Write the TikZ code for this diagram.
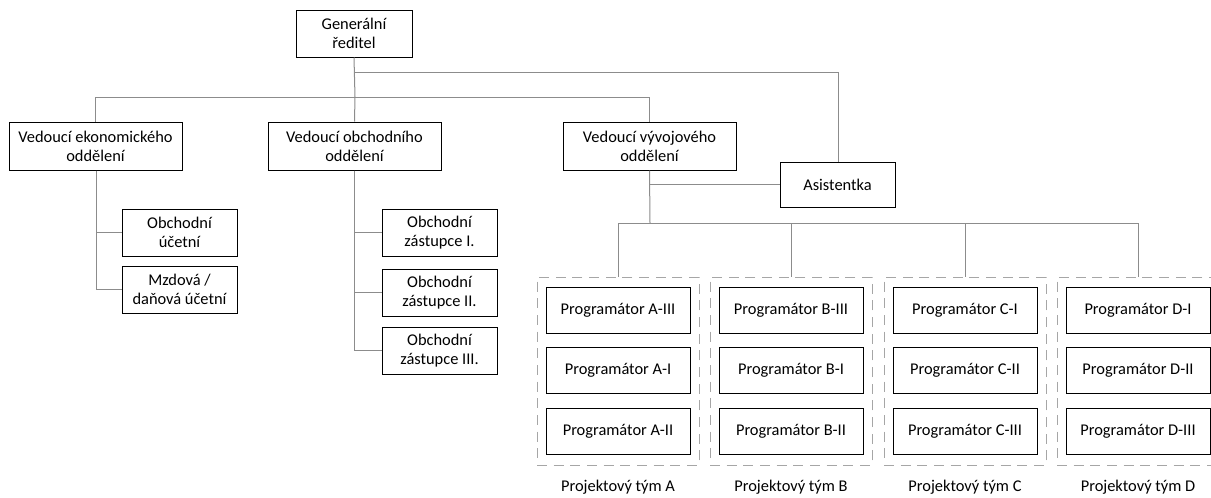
\documentclass[tikz,border=0pt]{standalone}
\usepackage{fontspec}
\setmainfont{Carlito}
\begin{document}
\begin{tikzpicture}[x=0.75pt,y=-0.75pt,
  txt/.style={font=\fontsize{12.3}{14.2}\selectfont},
  box/.style={txt,draw=black,line width=0.75pt,fill=white,align=center,inner sep=0pt},
  wide/.style={box,minimum width=173*0.75pt,minimum height=48*0.75pt},
  small/.style={box,minimum width=115*0.75pt,minimum height=47*0.75pt},
  prog/.style={box,minimum width=144*0.75pt,minimum height=46*0.75pt},
  team/.style={draw=black!35,line width=0.75pt,dash pattern=on 7.5pt off 5pt,
    minimum width=162*0.75pt,minimum height=188*0.75pt,inner sep=0pt},
  teamlabel/.style={txt,inner sep=0pt},
  link/.style={draw=black!45,line width=0.75pt}]
\useasboundingbox (0,0) rectangle (1211,497);
\clip (0,0) rectangle (1211,497);

% management
\node[box,minimum width=116*0.75pt,minimum height=47*0.75pt] (gen) at (354,33.5) {Generální\\ředitel};
\node[wide] (eko) at (95.5,146) {Vedoucí ekonomického\\oddělení};
\node[wide] (obch) at (354.5,146) {Vedoucí obchodního\\oddělení};
\node[wide] (vyv) at (649.5,146) {Vedoucí vývojového\\oddělení};
\node[small,minimum height=45*0.75pt] (asist) at (837.5,184.5) {Asistentka};

% economic department
\node[small] (ucet) at (179.5,232.5) {Obchodní\\účetní};
\node[small] (mzd) at (179.5,289.5) {Mzdová /\\daňová účetní};

% sales department
\node[small] (z1) at (439.5,232.5) {Obchodní\\zástupce I.};
\node[small] (z2) at (439.5,292.5) {Obchodní\\zástupce II.};
\node[small] (z3) at (439.5,350.5) {Obchodní\\zástupce III.};

% project teams
\foreach \t/\cx/\a/\b/\c in {A/618/A-III/A-I/A-II, B/791/B-III/B-I/B-II,
                             C/965/C-I/C-II/C-III, D/1138/D-I/D-II/D-III}{
  \node[team] (team\t) at (\cx,371) {};
  \node[prog] (p\t1) at (\cx,310) {Programátor \a};
  \node[prog] (p\t2) at (\cx,370.5) {Programátor \b};
  \node[prog] (p\t3) at (\cx,431) {Programátor \c};
  \node[teamlabel] (lab\t) at (\cx,487) {Projektový tým \t};
}

% connectors
\coordinate (top) at (355,97);
\coordinate (asx) at (838,72);
\coordinate (vbus) at (650,223);
\draw[link] (gen.south) -- (top);
\draw[link] (eko.north) |- (top);
\draw[link] (vyv.north) |- (top);
\draw[link] (obch.north) -- (top);
\draw[link] (gen.south |- asx) -- (asx) -- (asist.north -| asx);

\draw[link] (eko.south -| 96,0) |- (ucet.west);
\draw[link] (eko.south -| 96,0) |- (mzd.west);
\draw[link] (obch.south) |- (z1.west);
\draw[link] (obch.south) |- (z2.west);
\draw[link] (obch.south) |- (z3.west);

\draw[link] (vyv.south) -- (vbus);
\draw[link] (asist.west) -- (asist.west -| vbus);
\foreach \t in {A,B,C,D}{
  \draw[link] (vbus) -| (team\t.north);
}
\end{tikzpicture}
\end{document}
